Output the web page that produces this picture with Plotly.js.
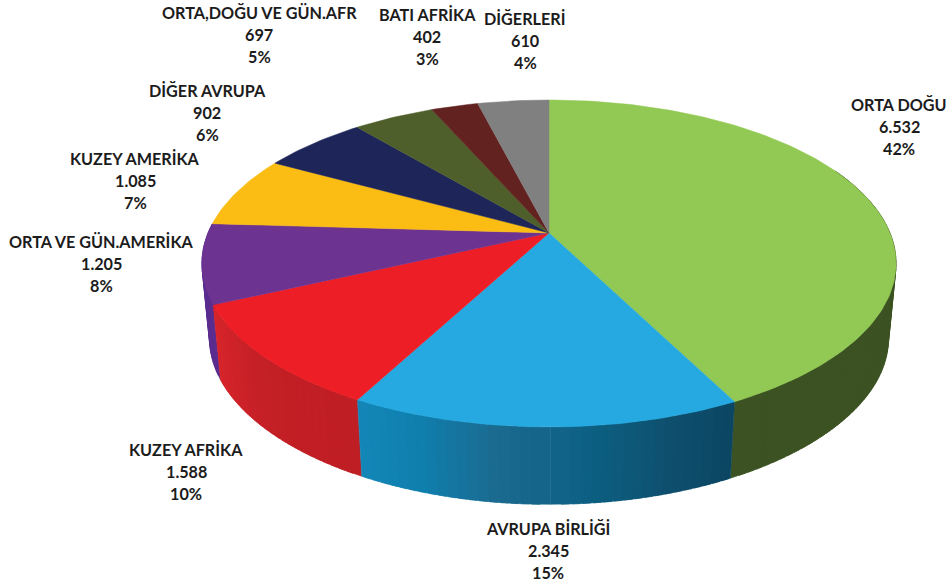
<!DOCTYPE html>
<html>
<head>
<meta charset="utf-8">
<script src="https://cdn.plot.ly/plotly-3.0.1.min.js"></script>
<style>html,body{margin:0;padding:0;background:#fff}#c{width:947px;height:583px}</style>
</head>
<body>
<div id="c"></div>
<script>
const categories = ["ORTA DOĞU","AVRUPA BİRLİĞİ","KUZEY AFRİKA","ORTA VE GÜN.AMERİKA","KUZEY AMERİKA","DİĞER AVRUPA","ORTA,DOĞU VE GÜN.AFR","BATI AFRİKA","DİĞERLERİ"];
const values = [6532,2345,1588,1205,1085,902,697,402,610];
const valueLabels = ["6.532","2.345","1.588","1.205","1.085","902","697","402","610"];
const percentLabels = ["42%","15%","10%","8%","7%","6%","5%","3%","4%"];
const topColors = ["#92C954","#25A9E0","#EE1E26","#6C3391","#FBBC14","#1E2659","#4F5F2B","#622220","#808080"];
// wall shading: colour stops, from the start of each slice to its end
const wallStops = [
  ["#3C5222","#3C5222"],
  ["#0A4560","#0E4F6E","#0C5F82","#1B6A90","#0F7FAD","#1488B9"],
  ["#BE1E24","#C42026","#D9252B"],
  ["#5A2D8F","#5A2D8F"]
];
const labelCenters = [899,548,186,101,135,207,259,427,525];
const labelTops = [104,528,449,241,158,90,12,14,18];
const lineGap = 22;

// Perspective projection of the pie's round top and bottom faces
const cx=549, cy=233, a=341, b=157.8, k=0.1865, wallDrop=76, wallShrink=0.978, lowK=0.21;
const total = values.reduce((s,v)=>s+v,0);
function proj(deg, low){
  const t=deg*Math.PI/180, u=Math.sin(t), v=-Math.cos(t), d=1-k*v;
  if(!low) return [cx+a*u/d, cy+b*v/d];
  return [cx+wallShrink*a*u/d, cy+wallDrop+wallShrink*b*v/(1-lowK*v)];
}
function hex(c){return [1,3,5].map(i=>parseInt(c.substr(i,2),16));}
function shade(stops,f){
  const p=f*(stops.length-1), i=Math.min(Math.floor(p),stops.length-2), r=p-i;
  const A=hex(stops[i]),B=hex(stops[i+1]);
  return "rgb("+A.map((x,j)=>Math.round(x+(B[j]-x)*r)).join(",")+")";
}
let ang=[0];
values.forEach(v=>ang.push(ang[ang.length-1]+v/total*360));

const step=1.5, wallStart=65, wallEnd=ang[4];
let quads=[];
for(let i=0;i<4;i++){
  const s=Math.max(ang[i],wallStart), e=Math.min(ang[i+1],wallEnd);
  const n=Math.max(1,Math.ceil((e-s)/step));
  for(let j=0;j<n;j++){
    const d0=s+(e-s)*j/n, d1=s+(e-s)*(j+1)/n;
    const mid=(d0+d1)/2;
    // each piece runs a little under its neighbour further back, so no seams show
    const back=1.2;
    const lo=mid<180&&j>0?d0-back:d0, hi=mid>=180&&j<n-1?d1+back:d1;
    quads.push({mid,d0:lo,d1:hi,col:shade(wallStops[i],(j+0.5)/n)});
  }
}
// back to front: the pieces nearest the viewer go last
quads.sort((p,q)=>Math.abs(q.mid-180)-Math.abs(p.mid-180));
const traces=[];
quads.forEach(q=>{
  const P=[proj(q.d0,false),proj(q.d1,false),proj(q.d1,true),proj(q.d0,true),proj(q.d0,false)];
  traces.push({type:"scatter",mode:"lines",x:P.map(p=>p[0]),y:P.map(p=>p[1]),fill:"toself",fillcolor:q.col,
    line:{color:q.col,width:0.5},hoverinfo:"skip",showlegend:false});
});
values.forEach((v,i)=>{
  const xs=[cx],ys=[cy];
  const n=Math.ceil((ang[i+1]-ang[i])/1);
  for(let j=0;j<=n;j++){const p=proj(ang[i]+(ang[i+1]-ang[i])*j/n,false);xs.push(p[0]);ys.push(p[1]);}
  xs.push(cx);ys.push(cy);
  traces.push({type:"scatter",mode:"lines",x:xs,y:ys,fill:"toself",fillcolor:topColors[i],
    line:{color:topColors[i],width:0.5},name:categories[i],text:categories[i]+" "+valueLabels[i],hoverinfo:"text",showlegend:false});
});
const annotations=[];
categories.forEach((c,i)=>{
  [c,valueLabels[i],percentLabels[i]].forEach((t,l)=>{
    annotations.push({x:labelCenters[i],y:labelTops[i]+l*lineGap,xref:"x",yref:"y",text:t,showarrow:false,
      xanchor:"center",yanchor:"middle",font:{family:"Lato",size:16.2,color:"#1c1c1c",weight:700}});
  });
});
const hidden=(r)=>({range:r,visible:false,fixedrange:true});
Plotly.newPlot("c",traces,{
  width:947,height:583,margin:{l:0,r:0,t:0,b:0},
  paper_bgcolor:"#fff",plot_bgcolor:"#fff",showlegend:false,
  xaxis:hidden([0,947]),yaxis:hidden([583,0]),annotations
},{displayModeBar:false,staticPlot:true});
</script>
</body>
</html>
